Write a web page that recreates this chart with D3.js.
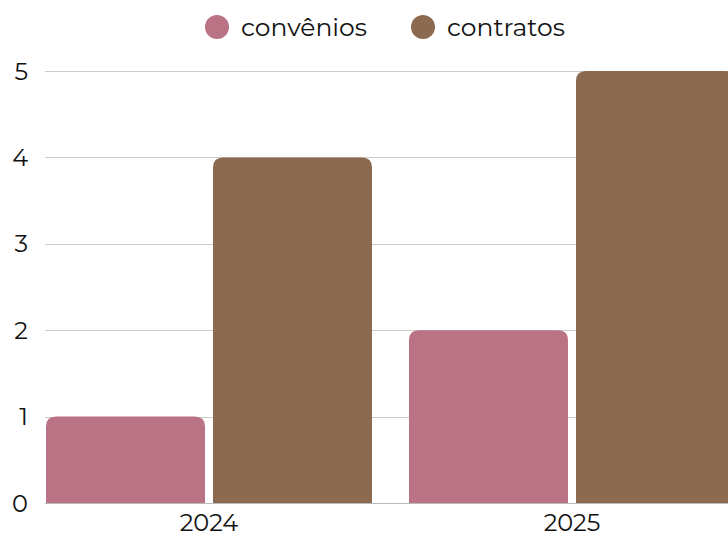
<!DOCTYPE html>
<html>
<head>
<meta charset="utf-8">
<script src="https://cdn.jsdelivr.net/npm/d3@7"></script>
<style>
  html, body { margin: 0; padding: 0; background: #fff; }
  svg text { font-family: Montserrat, "Noto Sans", Lato, sans-serif; fill: #111; }
</style>
</head>
<body>
<svg id="chart" width="728" height="536"></svg>
<script>
// Data
const years = ['2024', '2025'];
const seriesKeys = ['convênios', 'contratos'];
const convenios = [1, 2];
const contratos = [4, 5];
const yTicks = [0, 1, 2, 3, 4, 5];
const colors = ['#BA7285', '#8B6A50'];

const svg = d3.select('#chart');
const W = 728, H = 536;

const y = d3.scaleLinear().domain([0, 5]).range([503, 71]);

const x0 = d3.scaleBand().domain(years).range([46, 735])
    .paddingInner(37 / 363).paddingOuter(0);
const x1 = d3.scaleBand().domain(seriesKeys).range([0, x0.bandwidth()])
    .paddingInner(8 / 167).paddingOuter(0);
const color = d3.scaleOrdinal().domain(seriesKeys).range(colors);

// Gridlines
svg.append('g').selectAll('line')
    .data(yTicks)
    .join('line')
    .attr('x1', 45).attr('x2', W)
    .attr('y1', d => Math.round(y(d)) + 0.5)
    .attr('y2', d => Math.round(y(d)) + 0.5)
    .attr('stroke', d => d === 0 ? '#bbb' : '#ccc')
    .attr('stroke-width', 1);

// Y tick labels
svg.append('g').selectAll('text')
    .data(yTicks)
    .join('text')
    .attr('x', 28)
    .attr('y', d => y(d))
    .attr('dy', '0.36em')
    .attr('text-anchor', 'end')
    .attr('font-size', 24)
    .text(d => d);

// Rounded-top bar path
function topRounded(x, yTop, w, h, r) {
    r = Math.min(r, w / 2, h);
    return `M${x},${yTop + h}V${yTop + r}Q${x},${yTop} ${x + r},${yTop}` +
        `H${x + w - r}Q${x + w},${yTop} ${x + w},${yTop + r}V${yTop + h}Z`;
}

const rows = years.map((yr, i) => ({
    year: yr,
    values: [
        { key: seriesKeys[0], value: convenios[i] },
        { key: seriesKeys[1], value: contratos[i] }
    ]
}));

const groups = svg.append('g').selectAll('g')
    .data(rows)
    .join('g')
    .attr('transform', d => `translate(${x0(d.year)},0)`);

groups.selectAll('path')
    .data(d => d.values)
    .join('path')
    .attr('fill', d => color(d.key))
    .attr('d', d => topRounded(x1(d.key), y(d.value), x1.bandwidth(), y(0) - y(d.value), 10));

// X labels
svg.append('g').selectAll('text')
    .data(years)
    .join('text')
    .attr('x', d => x0(d) + x0.bandwidth() / 2)
    .attr('y', 531)
    .attr('text-anchor', 'middle')
    .attr('font-size', 24)
    .text(d => d);

// Legend
const legendX = [217, 423];
const legend = svg.append('g').selectAll('g')
    .data(seriesKeys)
    .join('g')
    .attr('transform', (d, i) => `translate(${legendX[i]},27)`);
legend.append('circle')
    .attr('r', 12)
    .attr('fill', d => color(d));
legend.append('text')
    .attr('x', 24)
    .attr('dy', '0.36em')
    .attr('font-size', 25)
    .text(d => d);
</script>
</body>
</html>
